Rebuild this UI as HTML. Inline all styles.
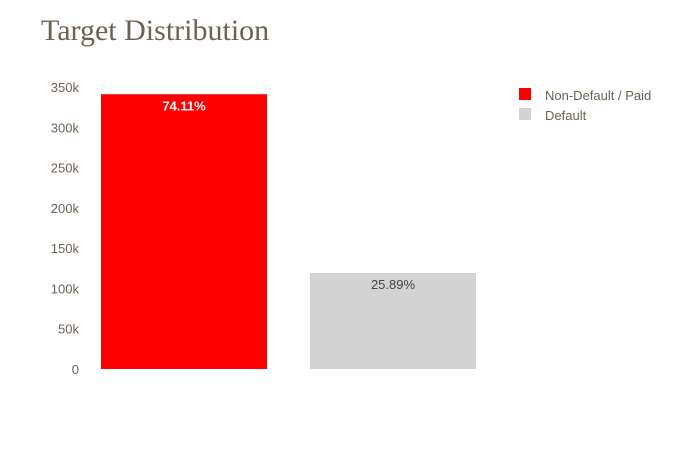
<!DOCTYPE html>
<html>
<head>
<meta charset="utf-8">
<style>
html,body{margin:0;padding:0;background:#fff;}
svg{display:block;}
text{font-family:"Liberation Sans","DejaVu Sans",sans-serif;}
</style>
</head>
<body>
<svg id="chart" width="674" height="450" xmlns="http://www.w3.org/2000/svg">
<text x="41" y="40" style="font-family:'Liberation Serif',serif" font-size="30" fill="#6b6253">Target Distribution</text>
<g id="yaxis"></g>
<g id="bars"></g>
<g id="legend"></g>
</svg>
<script>
const categories = ["Non-Default / Paid", "Default"];
const values = [341000, 119100];
const labels = ["74.11%", "25.89%"];
const colors = ["#ff0000", "#d3d3d3"];
const labelColors = ["#ffffff", "#444444"];
const ticks = [0, 50000, 100000, 150000, 200000, 250000, 300000, 350000];
const tickLabels = ["0", "50k", "100k", "150k", "200k", "250k", "300k", "350k"];

const NS = "http://www.w3.org/2000/svg";
const y0 = 369, yTop = 87, yMax = 350000;
function yScale(v){ return y0 - (v / yMax) * (y0 - yTop); }
const barStart = 101, barW = 166, step = 209;
function xScale(i){ return barStart + i * step; }
function mk(tag, attrs, parent){
  const el = document.createElementNS(NS, tag);
  for (const k in attrs) el.setAttribute(k, attrs[k]);
  parent.appendChild(el);
  return el;
}
const yaxis = document.getElementById("yaxis");
ticks.forEach((t, i) => {
  const tx = mk("text", {x: 79, y: yScale(t) + 5, "text-anchor": "end", "font-size": 13, fill: "#6b6253"}, yaxis);
  
  
  tx.textContent = tickLabels[i];
});
const bars = document.getElementById("bars");
values.forEach((v, i) => {
  const r = mk("rect", {x: xScale(i), y: yScale(v), width: barW, height: y0 - yScale(v), fill: colors[i]}, bars);
  
  
  const t = mk("text", {x: xScale(i) + barW / 2, y: yScale(v) + 16, "text-anchor": "middle", "font-size": 13, fill: labelColors[i], "font-weight": i === 0 ? "bold" : "normal"}, bars);
  
  
  t.textContent = labels[i];
});
const legend = document.getElementById("legend");
categories.forEach((c, i) => {
  const g = mk("g", {}, legend);
  
  
  mk("rect", {x: 519, y: 88 + i * 20, width: 12, height: 12, fill: colors[i]}, g);
  const t = mk("text", {x: 545, y: 100 + i * 20, "font-size": 13, fill: "#6b6253"}, g);
  t.textContent = c;
});
</script>
</body>
</html>
